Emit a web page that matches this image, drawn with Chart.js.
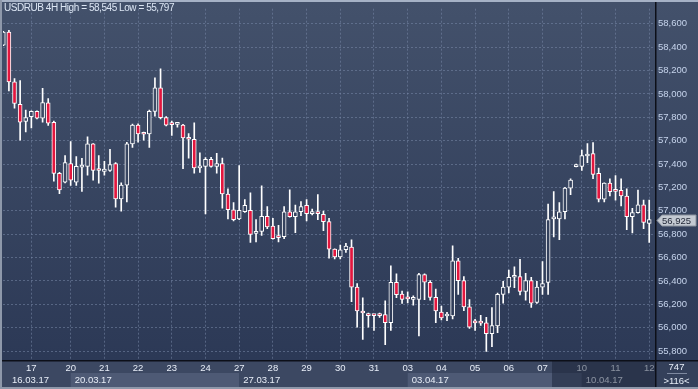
<!DOCTYPE html>
<html>
<head>
<meta charset="utf-8">
<script src="https://cdn.jsdelivr.net/npm/chart.js@4.4.1/dist/chart.umd.min.js"></script>
<style>
  html, body { margin: 0; padding: 0; background: #2c3956; }
</style>
</head>
<body>
<canvas id="chart1" width="698" height="389"></canvas>
<script>
// USDRUB 4H candles, oldest first
var opens = [58418,58530,58103,57912,57764,57806,57851,57792,57924,57758,
  57321,57245,57405,57245,57374,57380,57573,57346,57338,57346,
  57405,57102,57220,57573,57733,57657,57657,57851,58053,57797,
  57739,57739,57733,57624,57612,57368,57380,57441,57380,57405,
  57144,57009,56931,56992,57004,56807,56824,56953,56869,56774,
  56779,56992,56950,56992,57046,56976,56992,56970,56908,56673,
  56605,56667,56690,56347,56143,56120,56106,56112,56112,56044,
  56389,56288,56249,56243,56243,56454,56389,56260,56134,56100,
  56100,56572,56403,56179,56044,56042,56042,55949,56016,56286,
  56347,56432,56437,56311,56403,56216,56347,56387,56931,56931,
  56992,57194,57377,57380,57469,57489,57321,57099,57237,57169,
  57175,57127,56950,56984,57051,56892];
var highs = [58535,58545,58131,58114,57862,57856,57856,58047,57960,57767,
  57329,57472,57593,57464,57450,57632,57576,57472,57424,57525,
  57413,57239,57587,57741,57744,57674,57862,58137,58215,57806,
  57767,57750,57739,57660,57753,57497,57455,57458,57492,57452,
  57189,57071,57388,57096,57155,56925,57214,57037,56936,56875,
  57037,57180,57049,57079,57096,57015,57138,56998,56936,56676,
  56706,56723,56751,56378,56255,56126,56112,56126,56230,56530,
  56462,56314,56308,56272,56465,56462,56403,56331,56185,56131,
  56701,56594,56437,56241,56072,56106,56089,56173,56297,56398,
  56493,56521,56586,56465,56432,56398,56566,57057,57164,57071,
  57200,57273,57400,57520,57576,57584,57366,57239,57273,57301,
  57273,57189,57021,57178,57093,57093];
var lows = [58412,58025,57879,57604,57674,57710,57786,57758,57730,57253,
  57147,57239,57217,57217,57166,57304,57262,57237,57304,57338,
  57032,56998,57077,57542,57587,57604,57542,57809,57786,57727,
  57646,57716,57360,57450,57323,57329,56973,57374,57323,57023,
  56931,56914,56925,56987,56729,56734,56790,56847,56757,56734,
  56762,56945,56813,56959,56914,56964,56925,56830,56594,56589,
  56589,56645,56224,56005,55901,56005,55977,56089,55856,55977,
  56257,56207,56213,56193,55929,56241,56235,56044,56067,56061,
  56075,56286,56145,55994,55977,56019,55797,55837,55957,56210,
  56297,56342,56280,56235,56173,56207,56286,56286,56777,56754,
  56931,57138,57375,57346,57413,57276,57077,57077,57127,57091,
  57043,56838,56810,56981,56847,56729];
var closes = [58530,58103,57918,57758,57797,57851,57792,57926,57750,57321,
  57178,57413,57262,57380,57380,57573,57346,57345,57357,57396,
  57102,57220,57573,57733,57657,57655,57851,58053,57797,57733,
  57737,57741,57624,57612,57366,57370,57441,57380,57405,57144,
  57009,56925,57004,57046,56799,56824,56953,56863,56762,56771,
  56992,56950,56992,57037,56976,56992,56976,56908,56673,56605,
  56667,56698,56347,56143,56126,56103,56104,56103,56044,56389,
  56283,56243,56247,56245,56454,56389,56260,56143,56084,56102,
  56572,56403,56179,56005,56042,56040,55949,56019,56286,56347,
  56432,56437,56311,56403,56210,56347,56378,56925,56936,56992,
  57194,57262,57396,57472,57472,57312,57099,57237,57164,57166,
  57127,56950,56984,57051,56900,56925];

// first candle of each day and its label
var dayTicks  = [5,12,18,24,30,36,42,48,54,60,66,72,78,84,90,96,103,109,115];
var dayLabels = ['17','20','21','22','23','24','27','28','29','30','31','03','04','05','06','07','10','11','12'];
// week bands in the second row of the time axis
var weekStarts = [-0.05,12,42,72,103];
var weekLabels = ['16.03.17','20.03.17','27.03.17','03.04.17','10.04.17'];
var priceTicks = [55800,56000,56200,56400,56600,56800,57000,57200,57400,57600,57800,58000,58200,58400,58600];

var lastPrice = 56925;
var title = 'USDRUB 4H High = 58,545 Low = 55,797';
var barCount = '747';
var visibleCount = '>116<';

var FONT = "'Liberation Sans', Arial, sans-serif";
var RED = '#e3163e';

var bg = null;
function getBg(ctx) {
  if (!bg) {
    bg = ctx.createLinearGradient(0, 3, 0, 360);
    bg.addColorStop(0, '#43516b');
    bg.addColorStop(1, '#2c3956');
  }
  return bg;
}

var bodies = [], wicks = [];
for (var i = 0; i < opens.length; i++) {
  bodies.push({x: i, y: [opens[i], closes[i]]});
  wicks.push({x: i, y: [lows[i], highs[i]]});
}

var frame = {
  id: 'frame',
  beforeDraw: function(chart) {
    var ctx = chart.ctx, a = chart.chartArea, xs = chart.scales.x;
    ctx.save();
    ctx.fillStyle = getBg(ctx);
    ctx.fillRect(0, 0, chart.width, chart.height);
    // time axis rows
    ctx.fillStyle = '#3c4862';
    ctx.fillRect(0, a.bottom, a.right, chart.height - a.bottom);
    for (var w = 0; w < weekStarts.length; w++) {
      var x0 = w === 0 ? a.left : xs.getPixelForValue(weekStarts[w]);
      var x1 = w + 1 < weekStarts.length ? xs.getPixelForValue(weekStarts[w + 1]) : a.right;
      ctx.fillStyle = w % 2 ? '#4e5a75' : '#3c4862';
      ctx.fillRect(x0, 373, x1 - x0, 14);
    }
    ctx.fillStyle = '#34405a';
    ctx.fillRect(a.right, a.bottom, chart.width - a.right, chart.height - a.bottom);
    ctx.restore();
  },
  afterDraw: function(chart) {
    var ctx = chart.ctx, a = chart.chartArea, xs = chart.scales.x, ys = chart.scales.y;
    ctx.save();
    // week labels
    ctx.font = '9.5px ' + FONT;
    ctx.fillStyle = '#e8eef8';
    ctx.textBaseline = 'middle';
    for (var w = 0; w < weekStarts.length; w++) {
      var lx = w === 0 ? a.left + 9 : xs.getPixelForValue(weekStarts[w]) + 4;
      ctx.fillText(weekLabels[w], lx, 380.5);
    }
    // dimmed tail of the time axis
    ctx.fillStyle = 'rgba(20,28,48,0.45)';
    ctx.fillRect(552, a.bottom, a.right - 552, 27);
    // bar counters
    ctx.textAlign = 'center';
    ctx.fillStyle = '#e8eef8';
    ctx.fillText(barCount, 676.5, 367.5);
    ctx.fillText(visibleCount, 676.5, 381);
    ctx.fillStyle = 'rgba(200,210,230,0.5)';
    ctx.fillRect(667, 373, 20, 1);
    // axis lines
    ctx.fillStyle = '#0c0f18';
    ctx.fillRect(0, a.bottom, chart.width, 1.5);
    ctx.fillRect(a.right, 0, 1.5, chart.height);
    // frame
    ctx.fillStyle = '#a6b2c6';
    ctx.fillRect(0, 0, chart.width, 2);
    ctx.fillStyle = '#8e98aa';
    ctx.fillRect(0, 0, 2, chart.height);
    ctx.fillRect(0, 387, chart.width, 2);
    // header
    ctx.textAlign = 'left';
    ctx.font = '10px ' + FONT;
    if ('letterSpacing' in ctx) ctx.letterSpacing = '-0.45px';
    ctx.fillStyle = '#dce6f4';
    ctx.fillText(title, 4, 8.5);
    if ('letterSpacing' in ctx) ctx.letterSpacing = '0px';
    // last price marker
    var py = Math.round(ys.getPixelForValue(lastPrice)) + 0.5;
    ctx.beginPath();
    ctx.moveTo(657, py);
    ctx.lineTo(662, py - 5.5);
    ctx.lineTo(696, py - 5.5);
    ctx.lineTo(696, py + 5.5);
    ctx.lineTo(662, py + 5.5);
    ctx.closePath();
    ctx.fillStyle = '#c3c9d2';
    ctx.fill();
    ctx.strokeStyle = '#8a929e';
    ctx.lineWidth = 1;
    ctx.stroke();
    ctx.fillStyle = '#1e2434';
    ctx.font = '9.5px ' + FONT;
    ctx.fillText(lastPrice.toLocaleString('en-US'), 662, py + 0.5);
    ctx.restore();
  }
};

new Chart(document.getElementById('chart1'), {
  type: 'bar',
  data: {
    datasets: [{
      label: 'body',
      data: bodies,
      grouped: false,
      barThickness: 4,
      minBarLength: 2,
      borderWidth: 1,
      borderSkipped: false,
      borderColor: '#ffffff',
      backgroundColor: function(c) {
        var k = c.dataIndex;
        return closes[k] >= opens[k] ? getBg(c.chart.ctx) : RED;
      },
      clip: 0
    }, {
      label: 'wick',
      data: wicks,
      grouped: false,
      barThickness: 1,
      borderWidth: 0,
      backgroundColor: '#ffffff',
      clip: 0
    }]
  },
  options: {
    responsive: false,
    animation: false,
    events: [],
    layout: { padding: { left: 3, top: 3, right: 0, bottom: 0 } },
    plugins: { legend: { display: false }, tooltip: { enabled: false } },
    scales: {
      x: {
        type: 'linear',
        min: -0.05,
        max: 116.03,
        offset: false,
        afterBuildTicks: function(s) { s.ticks = dayTicks.map(function(v) { return {value: v}; }); },
        afterFit: function(s) { s.height = 29; },
        grid: { offset: false, drawTicks: false, color: 'rgba(120,136,168,0.55)', lineWidth: 1 },
        border: { display: false, dash: [2, 2] },
        ticks: {
          autoSkip: false, maxRotation: 0, padding: 3,
          color: '#e8eef8',
          font: { family: FONT, size: 9.5 },
          callback: function(v) { var k = dayTicks.indexOf(v); return k < 0 ? '' : dayLabels[k]; }
        }
      },
      y: {
        position: 'right',
        min: 55724,
        max: 58729,
        afterBuildTicks: function(s) { s.ticks = priceTicks.map(function(v) { return {value: v}; }); },
        afterFit: function(s) { s.width = 43; },
        grid: { drawTicks: false, color: 'rgba(120,136,168,0.55)', lineWidth: 1 },
        border: { display: false, dash: [2, 2] },
        ticks: {
          padding: 3,
          color: '#c6d4ec',
          font: { family: FONT, size: 9.5 },
          callback: function(v) { return v.toLocaleString('en-US'); }
        }
      }
    }
  },
  plugins: [frame]
});
</script>
</body>
</html>
